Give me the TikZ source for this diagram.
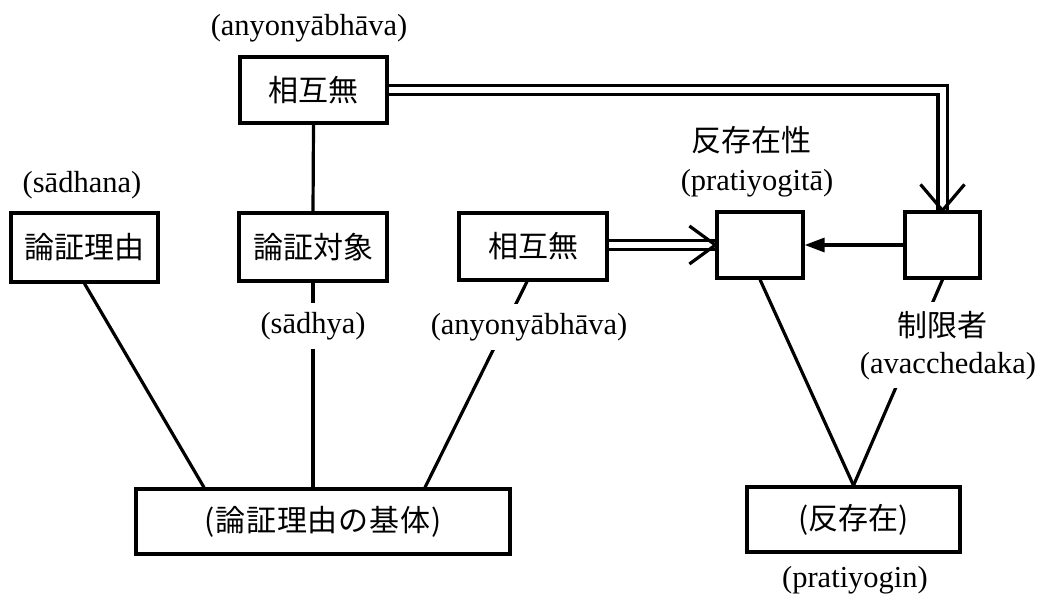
\documentclass[tikz,border=0pt]{standalone}
\usepackage{fontspec}
\setmainfont{Liberation Serif}
\newfontfamily\jp{Noto Sans CJK JP}
\newfontfamily\jpw{Noto Sans CJK JP}[LetterSpace=3]
\usetikzlibrary{arrows.meta,backgrounds}
\begin{document}
\begin{tikzpicture}[x=1pt,y=-1pt,
  every node/.style={inner sep=0pt},
  box/.style={draw, line width=3.2pt, fill=white, font=\jp\fontsize{30}{34}\selectfont},
  lat/.style={font=\fontsize{30.5}{34}\selectfont},
  jpt/.style={font=\jp\fontsize{30}{34}\selectfont},
  cover/.style={fill=white, inner xsep=4pt, inner ysep=9pt},
  conn/.style={line width=3.2pt},
  dbl/.style={line width=3.2pt, double, double distance=6pt},
  wing/.style={line width=3.2pt}
]
\useasboundingbox (0,0) rectangle (1048,600);

% labels
\node[lat] (ltop) at (309,28) {(anyonyābhāva)};
\node[lat] (lsn) at (82,185) {(sādhana)};
\node[jpt] (lpt) at (751,140) {反存在性};
\node[lat] (lpty) at (757,183) {(pratiyogitā)};
\node[lat] (lpg) at (855,580) {(pratiyogin)};

% boxes
\node[box, minimum width=147pt, minimum height=66pt] (tm) at (313.5,90) {相互無};
\node[box, minimum width=147pt, minimum height=69pt] (sn) at (84.5,247.5) {論証理由};
\node[box, minimum width=148pt, minimum height=68pt] (sd) at (313,247) {論証対象};
\node[box, minimum width=148pt, minimum height=67pt] (mm) at (533,246.5) {相互無};
\node[box, minimum width=86pt, minimum height=66pt] (lb) at (760,245) {};
\node[box, minimum width=75pt, minimum height=66pt] (rb) at (942.5,245) {};
\node[box, minimum width=374pt, minimum height=65pt, font=\jpw\fontsize{30}{34}\selectfont] (base) at (323,521.5) {(論証理由の基体)};
\node[box, minimum width=213pt, minimum height=65pt] (pb) at (853.5,519.5) {(反存在)};

% labels lying on connectors
\node[lat, cover] (lsy) at (313,326) {(sādhya)};
\node[lat, cover] (lmm) at (529,327) {(anyonyābhāva)};
\node[jpt, cover, inner ysep=9pt] (llim) at (942,325) {制限者};
\node[lat, cover, inner ysep=8pt] (lav) at (948,366) {(avacchedaka)};

\begin{scope}[on background layer]
  \draw[conn] (tm.south) -- (sd.north);
  \draw[conn] (sn.south) -- ([xshift=-119pt]base.north);
  \draw[conn] (sd.south) -- (sd.south |- base.north);
  \draw[conn] ([xshift=-6pt]mm.south) -- ([xshift=102pt]base.north);
  \draw[conn] (lb.south) -- (pb.north);
  \draw[conn] (rb.south) -- (pb.north);
  % filled arrow
  \draw[conn, -{Triangle[length=20pt,width=14pt]}] (rb.west) -- (lb.east);
  % double connectors
  \draw[dbl] (tm.east) -| (rb.north);
  \draw[dbl] (mm.east |- lb.west) -- (lb.west);
\end{scope}
% open arrowheads
\draw[wing] ([shift={(-26pt,19pt)}]lb.west) -- (lb.west);
\draw[wing] ([shift={(-26pt,-19pt)}]lb.west) -- (lb.west);
\draw[wing] ([shift={(-22pt,26pt)}]rb.north) -- (rb.north);
\draw[wing] ([shift={(22pt,26pt)}]rb.north) -- (rb.north);
\end{tikzpicture}
\end{document}
